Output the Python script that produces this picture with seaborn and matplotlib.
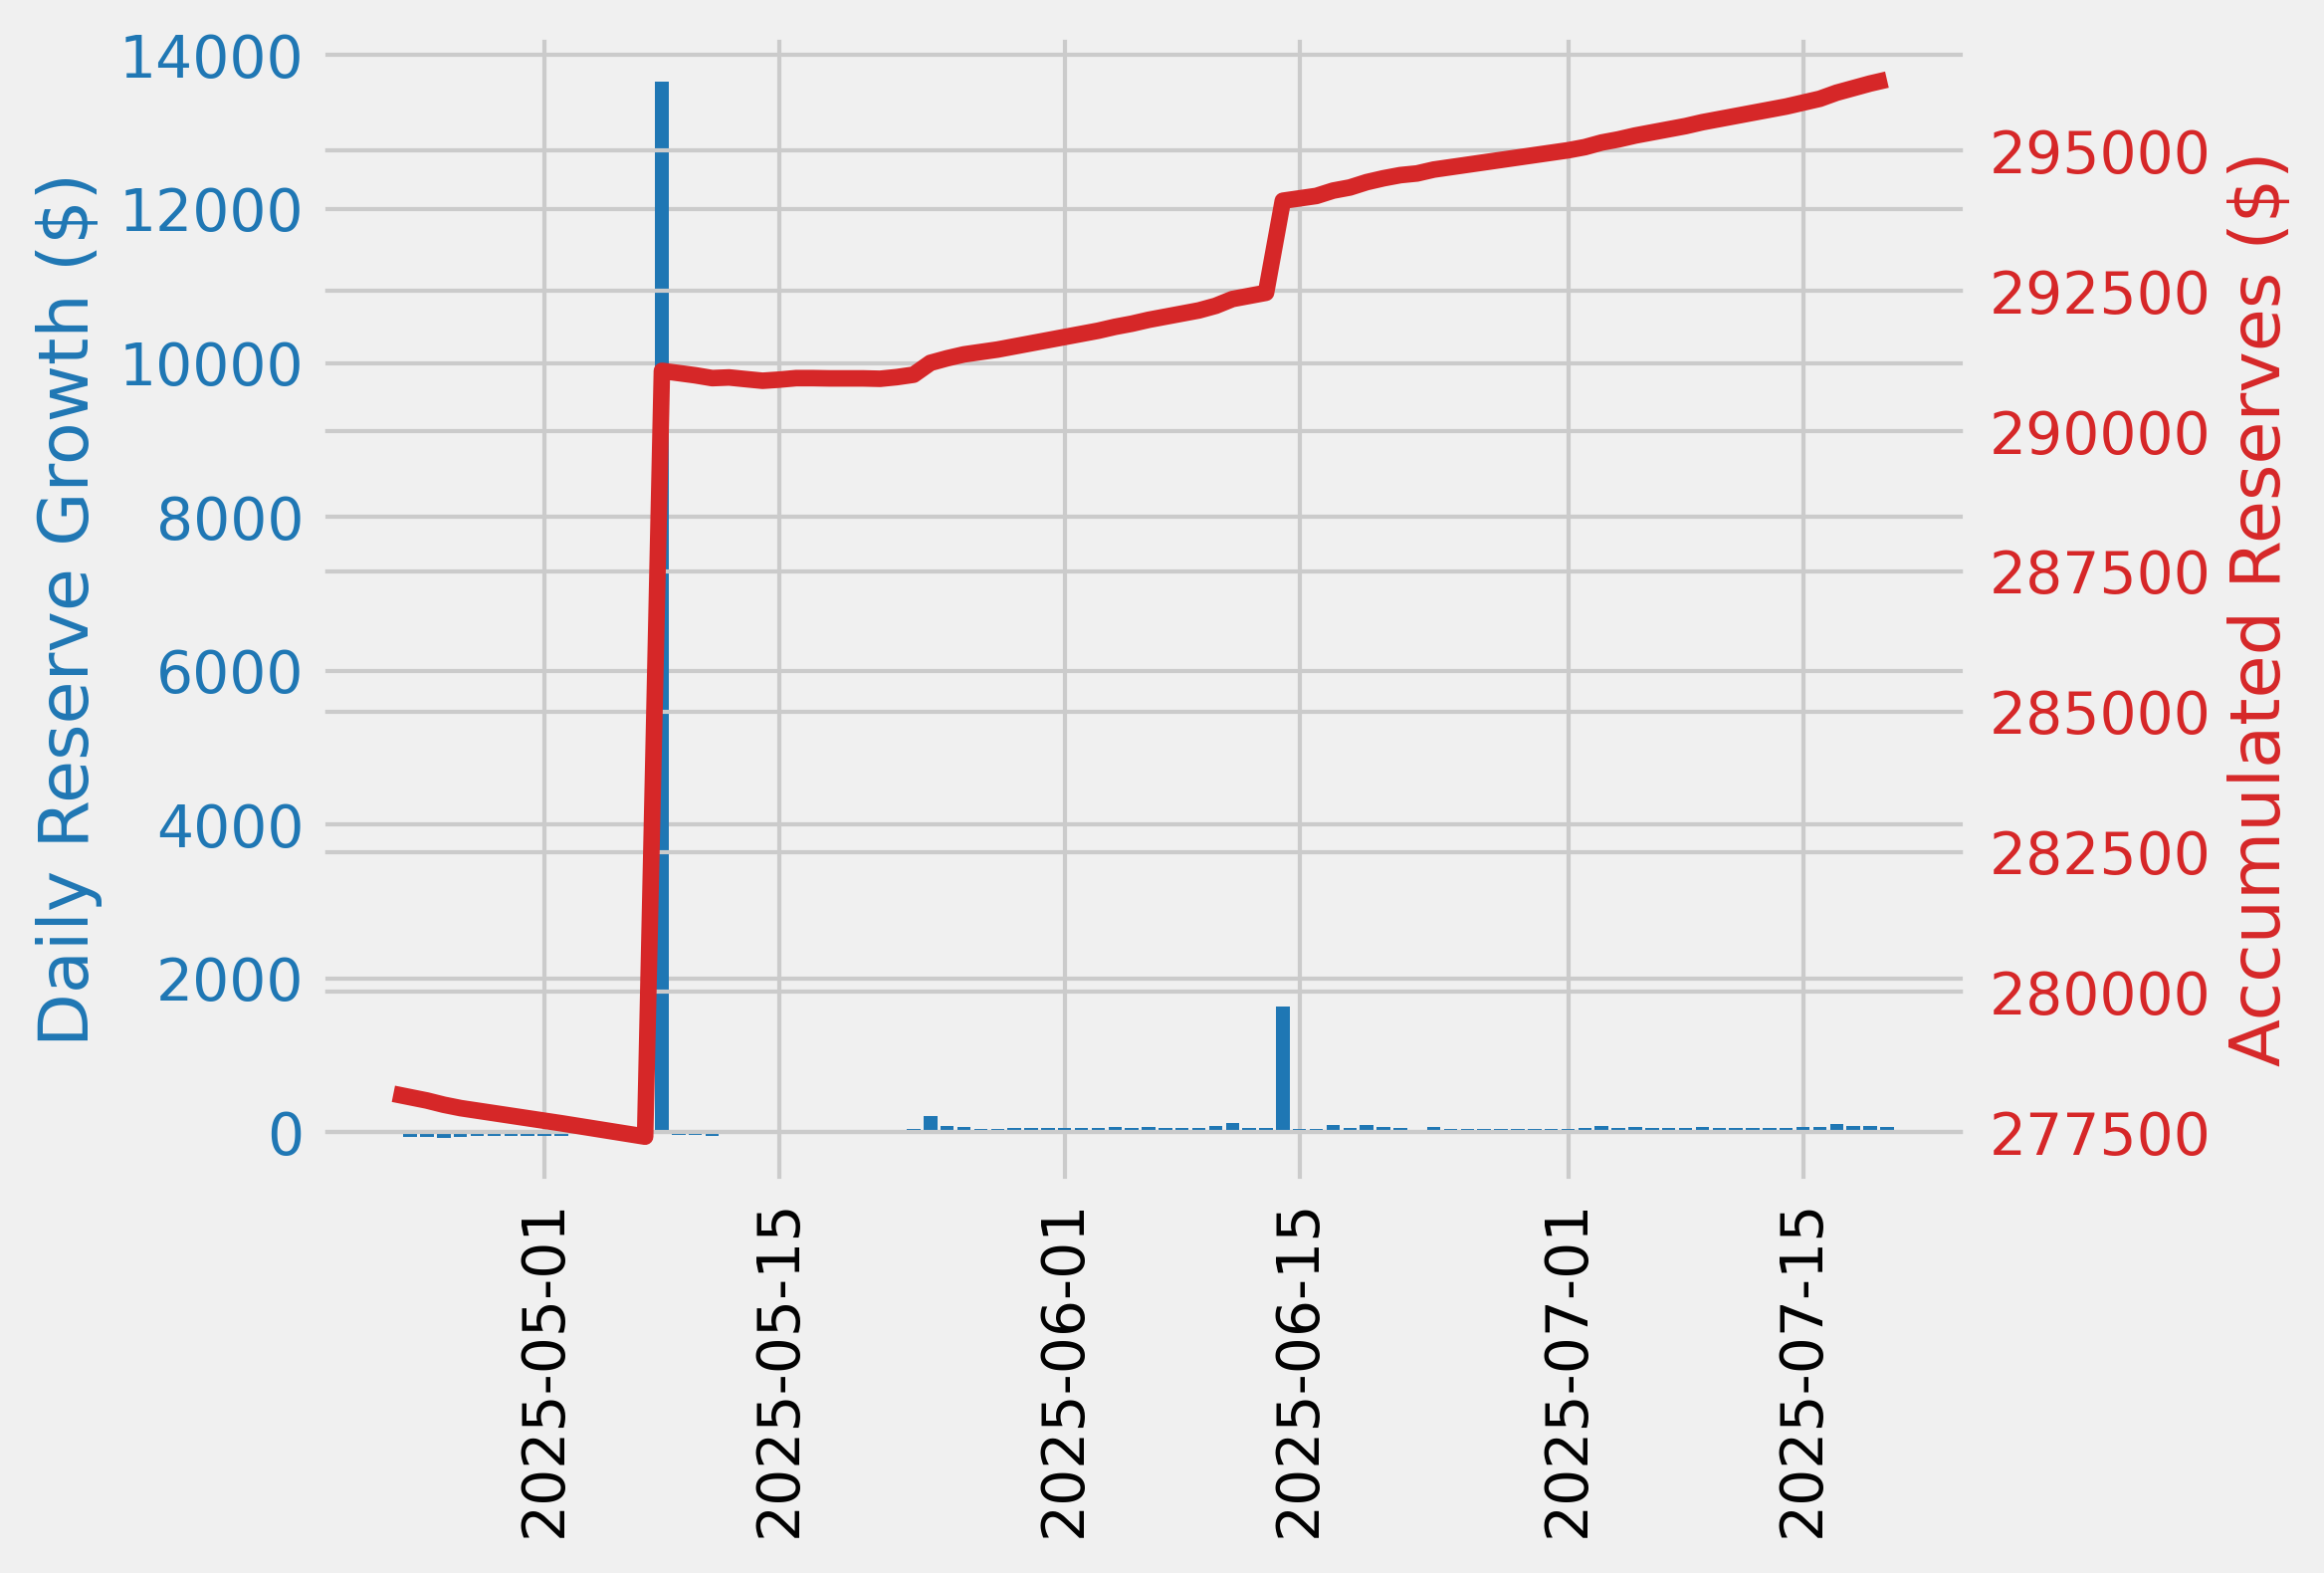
import numpy as np
import pandas as pd
import matplotlib
matplotlib.use("Agg")
import matplotlib.pyplot as plt
import seaborn as sns

# ---- data -------------------------------------------------------------
dates = pd.date_range("2025-04-22", "2025-07-20", freq="D")

nan = np.nan
accumulated_apr = [278186, 278126, 278066, 277991, 277931, 277886, 277841, 277796, 277751]
accumulated_may = [277706, 277661, nan, nan, nan, nan, 277422, 291075, 291035, 290995,
                   290945, 290957, 290927, 290898, 290918, 290945, 290945, 290940, 290940, 290940,
                   290933, 290963, 291006, 291217, 291299, 291368, 291411, 291454, 291510, 291566,
                   291622]
accumulated_jun = [291678, 291734, 291790, 291859, 291915, 291984, 292040, 292096, 292152, 292234,
                   292355, 292411, 292467, 294107, 294150, 294193, 294288, 294344, 294439, 294508,
                   294564, 294594, 294663, 294706, 294749, 294792, 294835, 294878, 294921, 294964]
accumulated_jul = [295007, 295063, 295145, 295201, 295270, 295326, 295382, 295438, 295507, 295563,
                   295619, 295675, 295731, 295787, 295856, 295925, 296033, 296115, 296197, 296266]

daily_apr = [nan, -60, -60, -75, -60, -45, -45, -45, -45]
daily_may = [-45, -45, nan, nan, nan, nan, nan, 13657, -40, -40,
             -50, 12, -22, -22, 20, 27, 0, -5, 0, 0,
             -7, 30, 43, 211, 82, 69, 43, 43, 56, 56,
             56]
daily_jun = [56, 56, 56, 69, 56, 69, 56, 56, 56, 82,
             121, 56, 56, 1630, 43, 43, 95, 56, 95, 69,
             56, 30, 69, 43, 43, 43, 43, 43, 43, 43]
daily_jul = [43, 56, 82, 56, 69, 56, 56, 56, 69, 56,
             56, 56, 56, 56, 69, 69, 108, 82, 82, 69]

accumulated = accumulated_apr + accumulated_may + accumulated_jun + accumulated_jul
daily = daily_apr + daily_may + daily_jun + daily_jul

df = pd.DataFrame({"date": dates, "accumulated": accumulated, "daily": daily})

# ---- style ------------------------------------------------------------
plt.style.use("fivethirtyeight")
plt.rcParams["font.family"] = ["DejaVu Sans"]

BLUE = "#1f77b4"
RED = "#d62728"

fig = plt.figure(figsize=(2335 / 300, 1580 / 300), dpi=300)
ax1 = fig.add_axes([0.1370, 0.2468, 0.8471 - 0.1370, 0.9791 - 0.2468])

bars = df.dropna(subset=["daily"])
ax1.bar(bars["date"], bars["daily"], width=0.8, color=BLUE)
ax1.set_ylabel("Daily Reserve Growth ($)", color=BLUE)
ax1.tick_params(axis="y", labelcolor=BLUE)
ax1.set_ylim(-682, 14290)

ax2 = ax1.twinx()
line = df.dropna(subset=["accumulated"])
sns.lineplot(data=line, x="date", y="accumulated", ax=ax2, color=RED, linewidth=4)
ax2.set_ylabel("Accumulated Reserves ($)", color=RED)
ax2.set_xlabel("")
ax2.tick_params(axis="y", labelcolor=RED, pad=5)
ax2.set_ylim(276564, 297100)

for lab in ax1.get_xticklabels():
    lab.set_rotation(90)
ax1.set_xlabel("")

fig.savefig("out.png", dpi=300, facecolor=fig.get_facecolor())
